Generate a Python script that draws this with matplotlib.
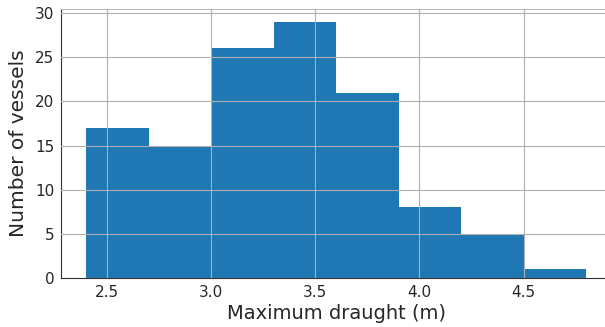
import numpy as np
import matplotlib.pyplot as plt

# histogram of maximum draught
bin_edges = [2.4, 2.7, 3.0, 3.3, 3.6, 3.9, 4.2, 4.5, 4.8]
counts = [17, 15, 26, 29, 21, 8, 5, 1]

fig = plt.figure(figsize=(6.05, 3.27), dpi=100)
ax = fig.add_axes([0.101, 0.150, 0.909, 0.822])

ax.hist(bin_edges[:-1], bins=bin_edges, weights=counts, color='#1f77b4')
ax.set_axisbelow(False)
ax.grid(True, color='#b0b0b0', linewidth=0.8)

ax.set_xticks([2.5, 3.0, 3.5, 4.0, 4.5])
ax.set_yticks([0, 5, 10, 15, 20, 25, 30])
ax.tick_params(length=0, labelsize=11, colors='#262626', pad=5)

for s in ['left', 'bottom']:
    ax.spines[s].set_color('#333333')
ax.spines['top'].set_color('#bbbbbb')
ax.spines['right'].set_visible(False)

ax.set_xlabel('Maximum draught (m)', fontsize=14, color='#262626', labelpad=3)
ax.set_ylabel('Number of vessels', fontsize=14.5, color='#262626', labelpad=5)

plt.savefig('out.png', dpi=100)
